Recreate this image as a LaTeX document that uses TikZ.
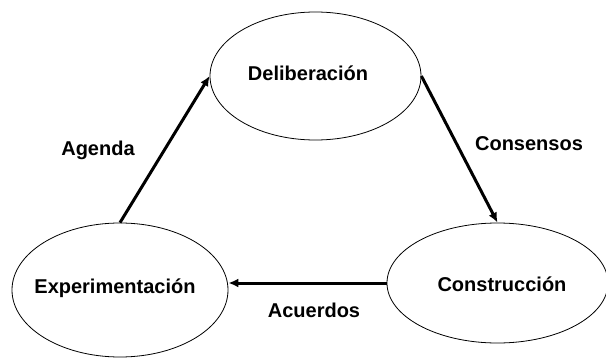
\documentclass[tikz,border=0pt]{standalone}
\usepackage{fontspec}
\setmainfont{Liberation Sans}
\usetikzlibrary{shapes.geometric,arrows.meta}
\begin{document}
\begin{tikzpicture}[x=1pt,y=-1pt,
  phase/.style={ellipse,draw=black,line width=0.8pt,inner sep=0pt,font=\fontsize{20}{24}\selectfont\bfseries},
  flow/.style={line width=3pt,-{Latex[length=10pt,width=9pt]}},
  lbl/.style={font=\fontsize{20}{24}\selectfont\bfseries,inner sep=0pt}]
\useasboundingbox (0,0) rectangle (606,359);
\node[phase,minimum width=211pt,minimum height=128pt] (del) at (315.5,76) {};
\node[phase,minimum width=221pt,minimum height=120pt] (con) at (497.5,283) {};
\node[phase,minimum width=216pt,minimum height=134pt] (exp) at (120,290) {};
\node[lbl] (tdel) at (308,73) {Deliberación};
\node[lbl] (tcon) at (502,284) {Construcción};
\node[lbl] (texp) at (115,288) {Experimentación};
\draw[flow] (exp.north) -- (del.west);
\draw[flow] (del.east) -- (con.north);
\draw[flow] (con.west) -- (con.west -| exp.east);
\node[lbl] (agenda) at (98,150) {Agenda};
\node[lbl] (consensos) at (529,144) {Consensos};
\node[lbl] (acuerdos) at (314,310) {Acuerdos};
\end{tikzpicture}
\end{document}
